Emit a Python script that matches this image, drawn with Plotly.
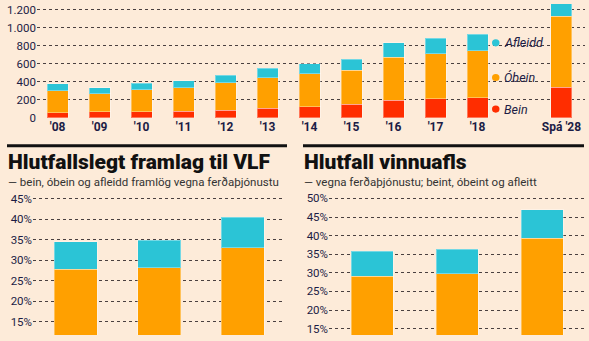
import plotly.graph_objects as go

W, H = 589, 341

# ---- Top chart data ----
years = ["'08", "'09", "'10", "'11", "'12", "'13", "'14", "'15", "'16", "'17", "'18", "Spá '28"]
bein = [60, 71, 68, 75, 86, 108, 125, 154, 194, 211, 222, 341]
obein = [242, 198, 244, 259, 302, 340, 363, 374, 481, 500, 525, 788]
afleidd = [75, 68, 72, 79, 86, 102, 111, 122, 158, 176, 180, 201]
legend_labels = ["Afleidd", "Óbein", "Bein"]

# ---- Bottom-left: Hlutfallslegt framlag til VLF ----
vlf_cats = ["A", "B", "C"]
vlf_bein_obein = [27.8, 28.2, 33.0]
vlf_afleidd = [6.7, 6.7, 7.5]

# ---- Bottom-right: Hlutfall vinnuafls ----
vinna_cats = ["A", "B", "C"]
vinna_bein_obein = [29.1, 29.7, 39.35]
vinna_afleidd = [6.7, 6.7, 7.55]

RED = "#ff2d00"
ORANGE = "#ffa000"
BLUE = "#2bc4d6"
BG = "#fdebd9"
NAVY = "#1c1c45"
GRID = "#4a4040"
FONT = "Roboto"

def px(x):
    return x / W

def py(y):
    return 1 - y / H

edge = dict(color="rgba(255,255,255,0.35)", width=1)

fig = go.Figure()
fig.add_bar(x=years, y=bein, marker=dict(color=RED, line=edge), width=0.5, xaxis="x", yaxis="y", name="Bein")
fig.add_bar(x=years, y=obein, marker=dict(color=ORANGE, line=edge), width=0.5, xaxis="x", yaxis="y", name="Óbein")
fig.add_bar(x=years, y=afleidd, marker=dict(color=BLUE, line=edge), width=0.5, xaxis="x", yaxis="y", name="Afleidd")

fig.add_bar(x=vlf_cats, y=vlf_bein_obein, marker=dict(color=ORANGE, line=edge), width=0.515, xaxis="x2", yaxis="y2")
fig.add_bar(x=vlf_cats, y=vlf_afleidd, marker=dict(color=BLUE, line=edge), width=0.515, xaxis="x2", yaxis="y2")

fig.add_bar(x=vinna_cats, y=vinna_bein_obein, marker=dict(color=ORANGE, line=edge), width=0.494, xaxis="x3", yaxis="y3")
fig.add_bar(x=vinna_cats, y=vinna_afleidd, marker=dict(color=BLUE, line=edge), width=0.494, xaxis="x3", yaxis="y3")

grid = dict(showgrid=True, gridcolor=GRID, griddash="dot", gridwidth=1, zeroline=False, showline=False, ticks="")

cat_order = years[:11] + [" "] + years[11:]

fig.update_layout(
    width=W, height=H,
    margin=dict(l=0, r=0, t=0, b=0),
    paper_bgcolor=BG, plot_bgcolor=BG,
    barmode="stack", showlegend=False,
    separators=",.",
    font=dict(family=FONT, color=NAVY, size=11),
    xaxis=dict(domain=[px(37), px(585)], type="category", categoryorder="array", categoryarray=cat_order,
               range=[-0.49, 12.56], showgrid=False, zeroline=False, ticks="",
               tickfont=dict(size=12, weight="bold", color=NAVY), anchor="y"),
    yaxis=dict(domain=[py(117.9), 1], range=[-6, 1265], dtick=200, tickformat=",d",
               tickfont=dict(size=11.5, color=NAVY), anchor="x", **grid),
    xaxis2=dict(domain=[px(33), px(283)], type="category", range=[-0.509, 2.485],
                showticklabels=False, showgrid=False, zeroline=False, ticks="", anchor="y2"),
    yaxis2=dict(domain=[0, py(197)], range=[11.8, 45.8], dtick=5, ticksuffix="%",
                tickfont=dict(size=11.5, color=NAVY), anchor="x2", **grid),
    xaxis3=dict(domain=[px(329), px(584)], type="category", range=[-0.506, 2.494],
                showticklabels=False, showgrid=False, zeroline=False, ticks="", anchor="y3"),
    yaxis3=dict(domain=[0, py(197)], range=[13.3, 50.86], dtick=5, ticksuffix="%",
                tickfont=dict(size=11.5, color=NAVY), anchor="x3", **grid),
)

shapes = []
annotations = []

# legend for top chart
leg_colors = [BLUE, ORANGE, RED]
leg_y = [40, 75.7, 108.3]
for lab, col, yy in zip(legend_labels, leg_colors, leg_y):
    shapes.append(dict(type="circle", xref="paper", yref="paper",
                       x0=px(492), x1=px(499.5), y0=py(yy + 3.7), y1=py(yy - 3.7),
                       fillcolor=col, line=dict(width=0)))
    annotations.append(dict(text=f"<i>{lab}</i>", xref="paper", yref="paper", x=px(502), y=py(yy),
                            xanchor="left", yanchor="middle", showarrow=False,
                            font=dict(size=12.5, color=NAVY, family=FONT)))

# section headers
for x0, x1, title, sub in [
    (7, 287, "Hlutfallslegt framlag til VLF", "— bein, óbein og afleidd framlög vegna ferðaþjónustu"),
    (303, 584, "Hlutfall vinnuafls", "— vegna ferðaþjónustu; beint, óbeint og afleitt"),
]:
    shapes.append(dict(type="line", xref="paper", yref="paper", x0=px(x0), x1=px(x1),
                       y0=py(146), y1=py(146), line=dict(color="#111111", width=3)))
    annotations.append(dict(text=title, xref="paper", yref="paper", x=px(x0 - 1), y=py(163),
                            xanchor="left", yanchor="middle", showarrow=False,
                            font=dict(size=21, color="#111111", family=FONT, weight=900)))
    annotations.append(dict(text=sub, xref="paper", yref="paper", x=px(x0 - 1), y=py(183.5),
                            xanchor="left", yanchor="middle", showarrow=False,
                            font=dict(size=11.5, color="#333333", family=FONT)))

fig.update_layout(shapes=shapes, annotations=annotations)
fig.write_html("out.html")
